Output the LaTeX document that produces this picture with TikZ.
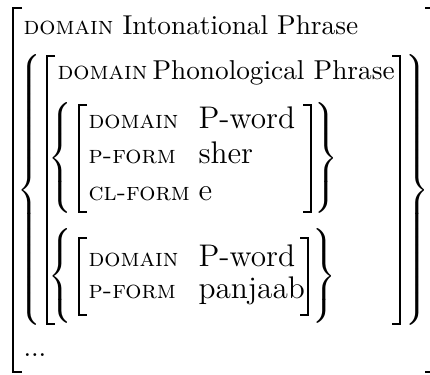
\documentclass[tikz,border=0pt]{standalone}
\newcommand{\bl}[1]{$\delimitershortfall=0pt\delimiterfactor=1000\nulldelimiterspace=0pt\left\{\vcenter to #1{\vss}\right.$}
\newcommand{\br}[1]{$\delimitershortfall=0pt\delimiterfactor=1000\nulldelimiterspace=0pt\left.\vcenter to #1{\vss}\right\}$}
\tikzset{
  attr/.style={anchor=base west, inner sep=0pt, font=\fontsize{9.6}{11}\selectfont\scshape},
  iattr/.style={anchor=base west, inner sep=0pt, font=\fontsize{9.6}{11}\selectfont\scshape},
  val/.style={anchor=base west, inner sep=0pt, font=\fontsize{10.3}{12}\selectfont},
  ival/.style={anchor=base west, inner sep=0pt, font=\fontsize{11.8}{14}\selectfont},
  delim/.style={inner sep=0pt, anchor=center},
  brk/.style={line width=0.4pt, line cap=butt}
}
\begin{document}
\begin{tikzpicture}[x=0.3774pt, y=-0.3774pt]
\useasboundingbox (0,0) rectangle (430,374);
% outer bracket
\draw[brk] (22,8) -- (13,8) -- (13,372) -- (22,372);
\draw[brk] (425,8) -- (430,8);
\draw[brk] (425,372) -- (430,372);
\node[attr] (a1) at (23,34) {domain};
\node[val] (v1) at (122,34) {Intonational Phrase};
% level 2
\node[delim] (lb2) at (29,190) {\bl{101.5pt}};
\node[delim] (rb2) at (417,190) {\br{101.5pt}};
\draw[brk] (55,56) -- (47,56) -- (47,324) -- (55,324);
\draw[brk] (392,56) -- (400,56) -- (400,324) -- (392,324);
\node[attr] (a2) at (57,79) {domain};
\node[val] (v2) at (152,79) {Phonological Phrase};
% set 1
\node[delim] (lb3) at (60,158) {\bl{40.5pt}};
\node[delim] (rb3) at (326,158) {\br{40.5pt}};
\draw[brk] (87,105) -- (79,105) -- (79,212) -- (87,212);
\draw[brk] (303,105) -- (311,105) -- (311,212) -- (303,212);
\node[iattr] (a3) at (88,128) {domain};
\node[ival] (v3) at (198,128) {P-word};
\node[iattr] (a4) at (88,163) {p-form};
\node[ival] (v4) at (198,163) {sher};
\node[iattr] (a5) at (88,200) {cl-form};
\node[ival] (v5) at (198,200) {e};
% set 2
\node[delim] (lb4) at (60,276) {\bl{35.5pt}};
\node[delim] (rb4) at (324,276) {\br{35.5pt}};
\draw[brk] (300,238) -- (308,238) -- (308,315) -- (300,315);
\draw[brk] (87,238) -- (79,238) -- (79,315) -- (87,315);
\node[iattr] (a6) at (88,266) {domain};
\node[ival] (v6) at (198,266) {P-word};
\node[iattr] (a7) at (88,298) {p-form};
\node[ival] (v7) at (198,298) {panjaab};
\node[val] (dots) at (23,356) {...};
\end{tikzpicture}
\end{document}
